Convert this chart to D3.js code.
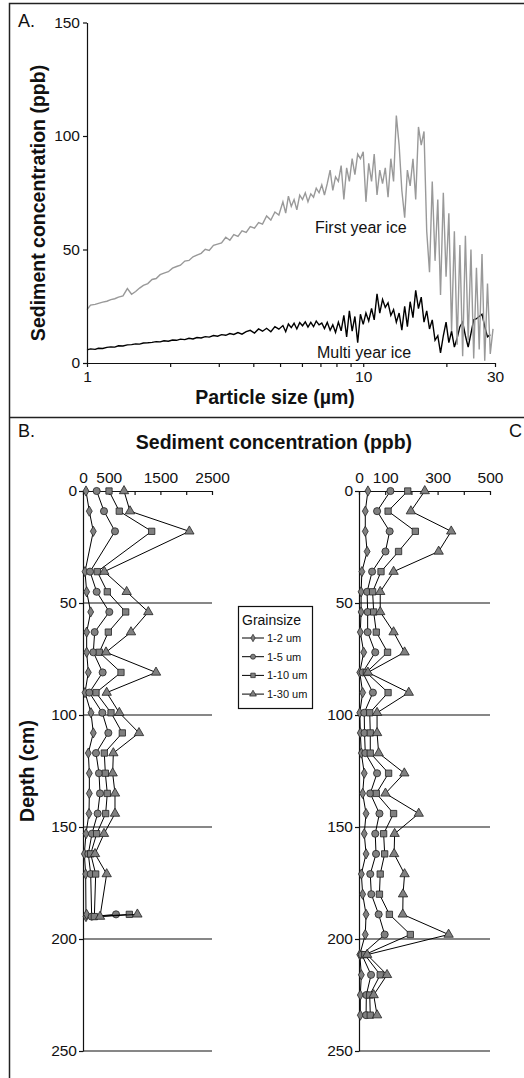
<!DOCTYPE html>
<html>
<head>
<meta charset="utf-8">
<script src="https://cdn.jsdelivr.net/npm/d3@7"></script>
<style>
body { margin: 0; background: #fff; }
</style>
</head>
<body>
<div id="chart"></div>
<script>
// ---- panel A: particle size spectra ----
const sizeBins = [
    1.00, 1.03, 1.07, 1.10, 1.14, 1.18, 1.22, 1.26, 1.30, 1.35,
    1.40, 1.45, 1.50, 1.55, 1.60, 1.66, 1.72, 1.78, 1.84, 1.90,
    1.97, 2.04, 2.11, 2.18, 2.26, 2.34, 2.42, 2.50, 2.59, 2.68,
    2.77, 2.87, 2.97, 3.07, 3.18, 3.29, 3.40, 3.52, 3.64, 3.77,
    3.90, 4.04, 4.18, 4.32, 4.47, 4.63, 4.79, 4.95,
    5.12, 5.24, 5.36, 5.49, 5.62, 5.75, 5.89, 6.03, 6.17, 6.31,
    6.46, 6.61, 6.76, 6.92, 7.08, 7.24, 7.41, 7.59, 7.76, 7.94,
    8.13, 8.32, 8.51, 8.71, 8.91, 9.12, 9.33, 9.55, 9.77, 10.0,
    10.23, 10.47, 10.72, 10.96, 11.22, 11.48, 11.75, 12.02, 12.30, 12.59,
    12.88, 13.18, 13.49, 13.80, 14.13, 14.45, 14.79, 15.14, 15.49, 15.85,
    16.22, 16.60, 16.98, 17.38, 17.78, 18.20, 18.62, 19.05, 19.50, 19.95,
    20.42, 20.89, 21.38, 21.88, 22.39, 22.91, 23.44, 23.99, 24.55, 25.12,
    25.70, 26.30, 26.92, 27.54, 28.18, 28.84, 29.51
];
const firstYearIce = [
    23.5, 25.5, 25.8, 26.3, 26.8, 27.2, 27.9, 28.3, 29.0, 29.6,
    32.8, 30.3, 31.5, 33.0, 34.2, 35.0, 36.8, 37.2, 38.9, 39.6,
    40.2, 41.8, 42.5, 43.1, 44.9, 45.2, 46.8, 47.5, 48.3, 50.1,
    49.6, 51.8, 52.4, 52.9, 55.4, 54.1, 56.6, 55.8, 58.2, 57.5,
    60.1, 59.4, 61.9, 61.2, 64.8, 63.0, 66.5, 65.2,
    71, 66, 73.5, 69, 72, 67.5, 74, 72, 75, 71,
    74.5, 73, 77, 75, 78.5, 74, 79, 85, 76, 82,
    80, 87, 72, 86, 80, 90, 83, 92, 90, 93,
    71, 88, 80, 92, 74, 85, 79, 86, 73, 90,
    80, 109, 96, 76, 64, 85, 78, 90, 72, 104,
    96, 102, 58, 40, 80, 45, 72, 30, 75, 38,
    66, 14, 58, 8, 52, 3, 56, 10, 50, 2,
    42, 6, 48, 1, 35, 4, 15
];
const multiYearIce = [
    5.8, 6.2, 6.0, 6.5, 6.4, 6.9, 7.1, 7.0, 7.6, 7.5,
    8.0, 8.1, 8.4, 8.3, 8.8, 8.9, 9.1, 9.4, 9.3, 9.8,
    9.6, 10.1, 10.0, 10.5, 10.3, 10.9, 10.6, 11.2, 11.0, 11.6,
    11.4, 12.1, 11.8, 12.5, 12.2, 13.0, 12.6, 13.4, 12.7, 13.8,
    14.4, 13.2, 15.0, 14.0, 15.3, 13.8, 16.0, 14.9,
    16.5, 13.8, 17.2, 15.6, 17.5, 15.0, 17.8, 16.4, 18.1, 15.8,
    17.9, 16.0, 18.5, 16.8, 17.6, 15.2, 17.9, 14.4, 16.8, 13.5,
    18.0, 14.2, 21.0, 11.5, 23.0, 14.0, 20.5, 9.0, 21.5, 17.0,
    22.0, 18.5, 24.0, 19.0, 30.5, 22.0, 28.0, 24.5, 26.5, 21.0,
    23.5, 18.0, 22.0, 14.5, 25.0, 16.0, 27.0, 20, 32, 24,
    29, 18, 23, 15, 19, 10, 12, 4.5, 12, 18,
    9, 14, 7, 11, 16, 18, 12, 7, 13, 19,
    19.5, 20.5, 21.5, 16, 11.5, 12.5, null
];
const concTicksA = [0, 50, 100, 150];
const sizeTicksA = [1, 2, 3, 4, 5, 6, 7, 8, 9, 10, 20, 30];
const sizeLabelsA = [1, 10, 30];

// ---- panels B and C: depth profiles ----
const depthTicks = [0, 50, 100, 150, 200, 250];
const grainSizes = ["1-2 um", "1-5 um", "1-10 um", "1-30 um"];

const depthsB = [0, 9, 18, 36, 45, 54, 63, 72, 81, 90, 99, 108, 117, 126, 135, 144, 153, 162, 171, 190, 189];
const grain1to2B = [58, 122, 200, 39, 71, 149, 71, 71, 103, 39, 155, 200, 103, 123, 123, 116, 58, 26, 52, 58, 70];
const grain1to5B = [265, 407, 620, 136, 265, 510, 226, 200, 381, 123, 374, 491, 252, 310, 330, 284, 174, 103, 149, 168, 640];
const grain1to10B = [504, 703, 1331, 277, 471, 827, 491, 316, 736, 252, 543, 762, 413, 433, 471, 439, 265, 149, 246, 220, 898];
const grain1to30B = [795, 911, 2061, 413, 846, 1266, 930, 446, 1415, 459, 704, 1085, 588, 575, 620, 620, 407, 233, 459, 330, 1054];
const concTicksB = [0, 500, 1000, 1500, 2000, 2500];
const concLabelsB = [0, 500, 1500, 2500];

const depthsC = [0, 9, 18, 27, 36, 45, 54, 63, 72, 81, 90, 99, 108, 117, 126, 135, 144, 153, 162, 171, 180, 189, 198, 207, 216, 225, 234];
const grain1to2C = [34, 24, 24, 31, 11, 8, 8, 5, 18, 3, 14, 3, 5, 9, 20, 14, 27, 20, 27, 9, 14, 27, 24, 3, 9, 5, 5];
const grain1to5C = [120, 69, 117, 101, 50, 31, 33, 33, 62, 14, 53, 20, 21, 24, 69, 43, 78, 62, 65, 43, 47, 75, 98, 11, 46, 28, 27];
const grain1to10C = [186, 111, 215, 151, 84, 52, 56, 66, 109, 28, 111, 41, 43, 43, 113, 66, 132, 94, 98, 81, 78, 116, 196, 22, 81, 41, 43];
const grain1to30C = [251, 198, 352, 304, 132, 81, 81, 132, 174, 34, 190, 69, 69, 75, 173, 101, 228, 136, 134, 174, 168, 167, 342, 31, 107, 56, 69];
const concTicksC = [0, 100, 200, 300, 400, 500];
const concLabelsC = [0, 100, 300, 500];

const FONT = '"Liberation Sans", Arial, Helvetica, sans-serif';
const symbolTypes = [d3.symbolDiamond, d3.symbolCircle, d3.symbolSquare, d3.symbolTriangle];
const symbolSizes = [30, 40, 40, 38];
const legendSizes = [16, 20, 20, 20];

function styleAxis(g, size) {
    g.attr("font-family", FONT).attr("font-size", size);
    g.selectAll("path, line").attr("stroke", "#111").attr("stroke-width", 1.2);
    g.selectAll("text").attr("fill", "#111");
}

function addText(svg, x, y, txt, size, opts = {}) {
    const t = svg.append("text")
        .attr("x", x)
        .attr("y", y)
        .attr("font-family", FONT)
        .attr("font-size", size)
        .attr("font-weight", opts.bold ? "bold" : "normal")
        .attr("text-anchor", opts.anchor || "start")
        .attr("fill", "#111")
        .text(txt);
    if (opts.rotate) t.attr("transform", `rotate(-90, ${x}, ${y})`);
    return t;
}

function drawSpectrum(svg) {
    const x = d3.scaleLog().domain([1, 30]).range([87, 495]);
    const y = d3.scaleLinear().domain([0, 150]).range([363, 22.5]);

    const line = d3.line()
        .defined(d => d[1] != null)
        .x(d => x(d[0]))
        .y(d => y(d[1]));

    svg.append("path")
        .datum(d3.zip(sizeBins, multiYearIce))
        .attr("d", line)
        .attr("fill", "none")
        .attr("stroke", "#000")
        .attr("stroke-width", 1.4);

    svg.append("path")
        .datum(d3.zip(sizeBins, firstYearIce))
        .attr("d", line)
        .attr("fill", "none")
        .attr("stroke", "#999")
        .attr("stroke-width", 1.4);

    const gx = svg.append("g")
        .attr("transform", `translate(0,${y(0)})`)
        .call(d3.axisBottom(x).tickValues(sizeTicksA)
            .tickFormat(d => sizeLabelsA.includes(d) ? d : "")
            .tickSizeInner(4).tickSizeOuter(0).tickPadding(4));
    styleAxis(gx, 15.5);

    const gy = svg.append("g")
        .attr("transform", `translate(${x(1)},0)`)
        .call(d3.axisLeft(y).tickValues(concTicksA).tickSizeInner(4).tickSizeOuter(0).tickPadding(3));
    styleAxis(gy, 15.5);

    addText(svg, 315, 233, "First year ice", 16);
    addText(svg, 317, 358, "Multi year ice", 16);
    addText(svg, 275, 404, "Particle size (µm)", 19.5, { bold: true, anchor: "middle" });
    addText(svg, 45, 203, "Sediment concentration (ppb)", 19.5, { bold: true, anchor: "middle", rotate: true });
    addText(svg, 18, 27, "A.", 18);
}

function drawProfile(svg, cfg) {
    const x = d3.scaleLinear().domain(cfg.domain).range(cfg.range);
    const y = d3.scaleLinear().domain([0, 250]).range([491, 1051]);

    svg.append("g").selectAll("line")
        .data(depthTicks.slice(1))
        .join("line")
        .attr("x1", x(cfg.domain[0]))
        .attr("x2", x(cfg.domain[1]))
        .attr("y1", d => y(d))
        .attr("y2", d => y(d))
        .attr("stroke", "#111")
        .attr("stroke-width", 1.2);

    const gx = svg.append("g")
        .attr("transform", `translate(0,${y(0)})`)
        .call(d3.axisTop(x).tickValues(cfg.ticks)
            .tickFormat(d => cfg.labels.includes(d) ? d : "")
            .tickSizeInner(-4).tickSizeOuter(0).tickPadding(8));
    styleAxis(gx, 15.5);

    const gy = svg.append("g")
        .attr("transform", `translate(${x(0)},0)`)
        .call(d3.axisLeft(y).tickValues(depthTicks).tickSizeInner(4).tickSizeOuter(0).tickPadding(2));
    styleAxis(gy, 15.5);

    const line = d3.line().x(d => x(d[1])).y(d => y(d[0]));

    cfg.series.forEach((vals, k) => {
        const pts = d3.zip(cfg.depths, vals);
        svg.append("path")
            .datum(pts)
            .attr("d", line)
            .attr("fill", "none")
            .attr("stroke", "#000")
            .attr("stroke-width", 1);
        svg.append("g").selectAll("path")
            .data(pts)
            .join("path")
            .attr("transform", d => `translate(${x(d[1])},${y(d[0])})`)
            .attr("d", d3.symbol().type(symbolTypes[k]).size(symbolSizes[k]))
            .attr("fill", "#808080")
            .attr("stroke", "#222")
            .attr("stroke-width", 0.8);
    });
}

function drawLegend(svg) {
    const g = svg.append("g");
    g.append("rect")
        .attr("x", 238.5).attr("y", 606.5)
        .attr("width", 74).attr("height", 102)
        .attr("fill", "#fff")
        .attr("stroke", "#111")
        .attr("stroke-width", 1.2);
    addText(g, 242, 625, "Grainsize", 14);
    const rows = g.selectAll(".entry")
        .data(grainSizes)
        .join("g")
        .attr("class", "entry")
        .attr("transform", (d, i) => `translate(0,${638 + i * 18.7})`);
    rows.append("line")
        .attr("x1", 242).attr("x2", 264)
        .attr("stroke", "#000").attr("stroke-width", 1);
    rows.append("path")
        .attr("transform", "translate(253,0)")
        .attr("d", (d, i) => d3.symbol().type(symbolTypes[i]).size(legendSizes[i])())
        .attr("fill", "#808080")
        .attr("stroke", "#222")
        .attr("stroke-width", 0.7);
    rows.append("text")
        .attr("x", 267)
        .attr("y", 4)
        .attr("font-family", FONT)
        .attr("font-size", 11)
        .attr("fill", "#111")
        .text(d => d);
}

const svg = d3.select("#chart").append("svg")
    .attr("width", 524)
    .attr("height", 1078);

// frame
svg.append("path")
    .attr("d", "M9.5,1078V3.5H524M9.5,417.5H524")
    .attr("fill", "none")
    .attr("stroke", "#222")
    .attr("stroke-width", 1.5);

drawSpectrum(svg);

drawProfile(svg, {
    domain: [0, 2500], range: [83, 212],
    ticks: concTicksB, labels: concLabelsB,
    depths: depthsB,
    series: [grain1to2B, grain1to5B, grain1to10B, grain1to30B]
});
drawProfile(svg, {
    domain: [0, 500], range: [359, 490],
    ticks: concTicksC, labels: concLabelsC,
    depths: depthsC,
    series: [grain1to2C, grain1to5C, grain1to10C, grain1to30C]
});
drawLegend(svg);

addText(svg, 274, 449, "Sediment concentration (ppb)", 19.5, { bold: true, anchor: "middle" });
addText(svg, 34, 771, "Depth (cm)", 19.5, { bold: true, anchor: "middle", rotate: true });
addText(svg, 18, 437, "B.", 18);
addText(svg, 509, 437, "C", 18);
</script>
</body>
</html>
